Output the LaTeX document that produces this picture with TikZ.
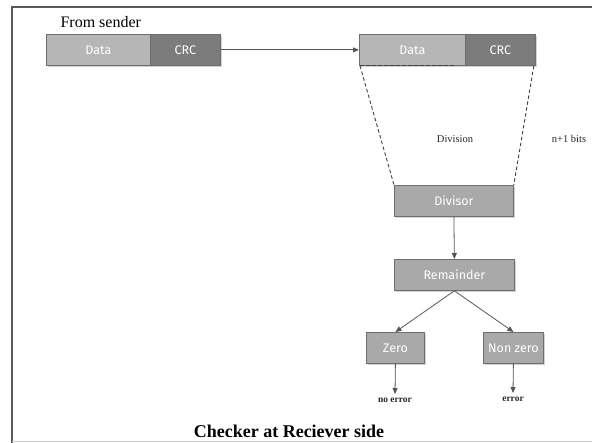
\documentclass[tikz,border=0pt]{standalone}
\usepackage{fontspec}
\setmainfont{Liberation Serif}
\newfontfamily\boxfont{Fira Sans}
\usetikzlibrary{arrows.meta,shadows}
\definecolor{lightbox}{HTML}{B6B6B6}
\definecolor{darkbox}{HTML}{7C7C7C}
\definecolor{midbox}{HTML}{A9A9A9}
\definecolor{edgegray}{HTML}{6E6E6E}
\definecolor{linegray}{HTML}{555555}
\tikzset{
  x=1pt, y=-1pt,
  blk/.style={draw=edgegray, line width=0.8pt, font=\boxfont\fontsize{12.5}{14}\selectfont,
    text=white, inner sep=0pt, anchor=north west,
    drop shadow={shadow xshift=1.2pt, shadow yshift=-1.2pt, fill=black!35, opacity=0.5}},
  flow/.style={draw=linegray, line width=0.8pt, -{Triangle[length=6pt,width=5pt]}},
  cut/.style={draw=black!75, line width=0.9pt, dash pattern=on 3.5pt off 2.5pt},
  small/.style={font=\fontsize{10.5}{12}\selectfont, text=black!85},
  tiny/.style={font=\fontsize{9.5}{11}\selectfont\bfseries, text=black!85},
}
\begin{document}
\begin{tikzpicture}
  \useasboundingbox (0,0) rectangle (592,443);
  % page frame
  \draw[line width=2.4pt, draw=black!65] (12,443) -- (12,7) -- (592,7);
  \draw[line width=0.8pt, draw=black!20] (12,441.5) -- (592,441.5);

  \node[anchor=base west, font=\fontsize{16}{18}\selectfont] (snd) at (57,28) {From sender};

  % sender frame
  \node[blk, fill=lightbox, minimum width=104pt, minimum height=31pt] (sdata) at (46,34) {Data};
  \node[blk, fill=darkbox, minimum width=70pt, minimum height=31pt] (scrc) at (150,34) {CRC};

  % received frame
  \node[blk, fill=lightbox, minimum width=106pt, minimum height=31pt] (rdata) at (359,34) {Data};
  \node[blk, fill=darkbox, minimum width=70pt, minimum height=31pt] (rcrc) at (465,34) {CRC};

  \draw[flow] (scrc.east) -- (rdata.west);

  % processing chain
  \node[blk, fill=midbox, minimum width=119pt, minimum height=31pt] (div) at (394,185) {Divisor};
  \node[blk, fill=midbox, minimum width=120pt, minimum height=31pt] (rem) at (394,259) {Remainder};
  \node[blk, fill=midbox, minimum width=58pt, minimum height=31pt] (zero) at (366,332) {Zero};
  \node[blk, fill=midbox, minimum width=60pt, minimum height=31pt] (nz) at (483,332) {Non zero};

  % division funnel
  \draw[cut] ([xshift=1pt]rdata.south west) -- ([xshift=-12pt]rdata.south east);
  \draw[cut] ([xshift=1pt]rdata.south west) -- (div.north west);
  \draw[cut] ([xshift=-2pt]rcrc.south east) -- (div.north east);

  \node[small] (dlab) at (455,139) {Division};
  \node[small] (blab) at (569,139) {n+1 bits};

  \draw[flow] (div.south) -- (rem.north);
  \draw[flow] (rem.south) -- (zero.north);
  \draw[flow] (rem.south) -- (nz.north);

  \coordinate (ok) at (395,394);
  \coordinate (bad) at (513,393);
  \draw[flow] (zero.south) -- (ok);
  \draw[flow] (nz.south) -- (bad);
  \node[tiny, anchor=north] (oktxt) at (ok) {no error};
  \node[tiny, anchor=north] (badtxt) at (bad) {error};

  \node[anchor=base, font=\fontsize{18}{20}\selectfont\bfseries] (cap) at (289,438) {Checker at Reciever side};
\end{tikzpicture}
\end{document}
